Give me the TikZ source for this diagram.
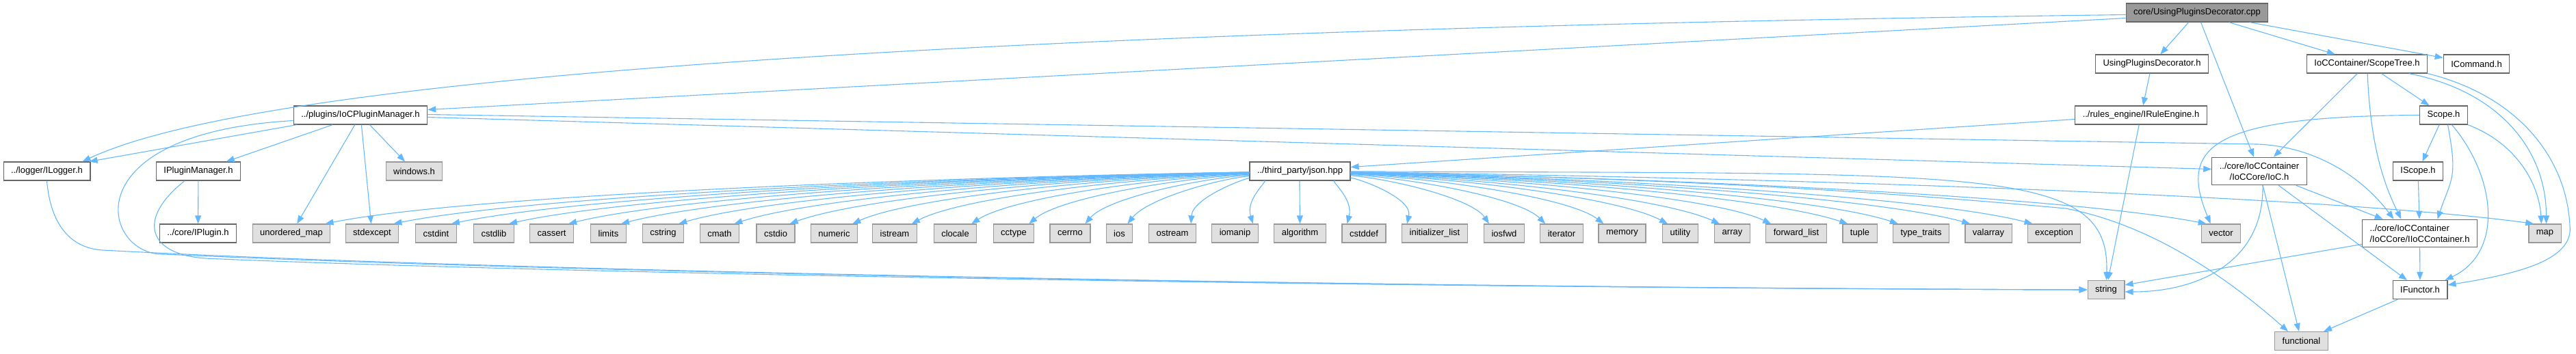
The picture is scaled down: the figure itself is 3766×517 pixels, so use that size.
\documentclass[tikz,border=0pt]{standalone}
\usepackage{fontspec}
\setmainfont{Liberation Sans}
\usetikzlibrary{arrows.meta}

\definecolor{edgeblue}{HTML}{63B8FF}
\definecolor{boxgray}{HTML}{E0E0E0}
\definecolor{sysborder}{HTML}{999999}
\definecolor{nodeborder}{HTML}{666666}
\definecolor{rootfill}{HTML}{999999}

\begin{document}
\begin{tikzpicture}[x=1pt, y=-1pt,
    filebox/.style={draw=nodeborder, line width=1.2pt, fill=white, text=black, inner xsep=11pt, inner ysep=6pt, minimum height=27pt, font=\fontsize{13}{16}\selectfont, align=center},
    sysbox/.style={filebox, draw=sysborder, fill=boxgray},
    rootbox/.style={filebox, fill=rootfill},
    dep/.style={draw=edgeblue, line width=1.1pt, -{Triangle[length=12pt,width=9pt]}}]
    \useasboundingbox (0,0) rectangle (3766,517);

    % Source file and its direct headers (top right)
    \node[rootbox] (root) at (3212,18.5) {core/UsingPluginsDecorator.cpp};
    \node[filebox] (upd) at (3146,93.5) {UsingPluginsDecorator.h};
    \node[filebox] (scopetree) at (3460.5,93.5) {IoCContainer/ScopeTree.h};
    \node[filebox] (icommand) at (3620.5,93.5) {ICommand.h};
    \node[filebox] (pluginmgr) at (527,168.5) {../plugins/IoCPluginManager.h};
    \node[filebox] (ruleengine) at (3130,168.5) {../rules\_engine/IRuleEngine.h};
    \node[filebox] (scope) at (3572.5,168.5) {Scope.h};

    % Middle row (project headers)
    \node[filebox] (ilogger) at (68.5,250.5) {../logger/ILogger.h};
    \node[filebox] (ipluginmgr) at (290,250.5) {IPluginManager.h};
    \node[sysbox] (windows) at (605.5,250.5) {windows.h};
    \node[filebox] (json) at (1900.5,250.5) {../third\_party/json.hpp};
    \node[filebox, inner ysep=7.5pt] (ioc) at (3303,250.5) {../core/IoCContainer\\/IoCCore/IoC.h};
    \node[filebox] (iscope) at (3535,250.5) {IScope.h};

    % Standard library row (gray boxes)
    \node[filebox] (iplugin) at (289.5,341.5) {../core/IPlugin.h};
    \foreach \n/\x/\t in {umap/426/unordered\_map, stdexcept/544/stdexcept, cstdint/637.5/cstdint, cstdlib/722/cstdlib,
        cassert/806.5/cassert, limits/889.5/limits, cstring/969.5/cstring, cmath/1052/cmath, cstdio/1134/cstdio,
        numeric/1219.5/numeric, istream/1308/istream, clocale/1396.5/clocale, cctype/1482/cctype, cerrno/1564.5/cerrno,
        ios/1636.5/ios, ostream/1714/ostream, iomanip/1805.5/iomanip, algorithm/1900.5/algorithm, cstddef/1994/cstddef,
        initlist/2097.5/initializer\_list, iosfwd/2199/iosfwd, iterator/2283/iterator, memory/2371.5/memory,
        utility/2456.5/utility, array/2532.5/array, fwdlist/2626/forward\_list, tuple/2719/tuple,
        typetraits/2808.5/type\_traits, valarray/2907/valarray, exception/3003/exception}
        \node[sysbox] (\n) at (\x,341.5) {\t};
    \node[sysbox] (vector) at (3247,341.5) {vector};
    \node[filebox, inner ysep=7.5pt, align=left] (iioc) at (3537.5,341.5) {../core/IoCContainer\\/IoCCore/IIoCContainer.h};
    \node[sysbox] (map) at (3720.5,341.5) {map};

    % Bottom rows
    \node[sysbox] (string) at (3079,424) {string};
    \node[filebox] (ifunctor) at (3538,424) {IFunctor.h};
    \node[sysbox] (functional) at (3364.5,499) {functional};

    % Includes of the source file
    \draw[dep] (root) -- (upd);
    \draw[dep] (root) -- (ioc);
    \draw[dep] (root) -- (scopetree);
    \draw[dep] (root) -- (icommand);
    \draw[dep] ([yshift=-8]root.west) -- ([yshift=8]pluginmgr.east);
    \draw[dep] ([yshift=-3]root.west) .. controls (1700,40) and (420,95) .. ([xshift=-12]ilogger.north east);

    % Decorator header and rule engine
    \draw[dep] (upd) -- (ruleengine);
    \draw[dep] ([yshift=-6]ruleengine.west) -- ([yshift=6]json.east);
    \draw[dep] (ruleengine) -- (string);

    % Plugin manager
    \draw[dep] ([xshift=5]pluginmgr.south west) -- ([xshift=-2]ilogger.north east);
    \draw[dep] (pluginmgr) -- (ipluginmgr);
    \draw[dep] (pluginmgr) -- (umap);
    \draw[dep] (pluginmgr) -- (stdexcept);
    \draw[dep] (pluginmgr) -- (windows);
    \draw[dep] ([yshift=-3]pluginmgr.east) -- ([yshift=3]ioc.west);
    \draw[dep] ([yshift=1]pluginmgr.east) -- (3300,211) .. controls (3380,214) and (3450,255) .. ([xshift=-38]iioc.north);
    \draw[dep] (ipluginmgr) -- (iplugin);

    % Long runs to string along the bottom
    \draw[dep] (ilogger.south) .. controls +(5,60) and +(-50,-3) .. (150,366) .. controls (700,396) and (2000,421) .. (string.west);
    \draw[dep] ([xshift=-20]ipluginmgr.south) .. controls (200,320) and (215,372) .. (300,378) .. controls (800,400) and (2000,421) .. (string.west);
    \draw[dep] ([yshift=-8]pluginmgr.west) .. controls (100,195) and (150,375) .. (240,372) .. controls (800,398) and (2000,421) .. (string.west);

    % json.hpp fan-out
    \foreach \n/\x in {umap/426, stdexcept/544, cstdint/637, cstdlib/722, cassert/806, limits/890, cstring/970,
        cmath/1052, cstdio/1134, numeric/1220, istream/1308, clocale/1397, cctype/1482, cerrno/1565, ios/1636,
        ostream/1714, iomanip/1805, algorithm/1900, cstddef/1994, initlist/2097, iosfwd/2199, iterator/2283,
        memory/2371, utility/2456, array/2532, fwdlist/2626, tuple/2719, typetraits/2808, valarray/2907,
        exception/3003, vector/3247, map/3720}{
        \pgfmathsetmacro\ca{1900+0.45*(\x-1900)}
        \pgfmathsetmacro\cb{\x-0.16*(\x-1900)}
        \ifnum\x<1900 \def\anc{north east}\def\sh{-8}\else
            \ifnum\x>1900 \def\anc{north west}\def\sh{8}\else \def\anc{north}\def\sh{0}\fi\fi
        \draw[dep] (json) .. controls (\ca,262) and (\cb,290) .. ([xshift=\sh]\n.\anc);
    }
    \draw[dep] (json) .. controls (2900,255) and (3085,240) .. (string);
    \draw[dep] (json) .. controls (2500,262) and (2800,285) .. (3020,305) .. controls (3150,330) and (3260,410) .. ([xshift=20]functional.north west);

    % IoC container headers
    \draw[dep] (ioc) -- (iioc);
    \draw[dep] (ioc) -- (ifunctor);
    \draw[dep] (ioc) -- (functional);
    \draw[dep] ([xshift=5]ioc.south) .. controls +(2,110) and +(110,0) .. ([yshift=-3]string.east);
    \draw[dep] ([yshift=5]iioc.south west) -- ([yshift=7]string.east);
    \draw[dep] (iioc) -- (ifunctor);
    \draw[dep] (ifunctor) -- (functional);

    % Scope tree and scope
    \draw[dep] (scopetree) -- (ioc);
    \draw[dep] (scopetree) .. controls (3465,200) and (3480,260) .. ([xshift=-27]iioc.north);
    \draw[dep] (scopetree) -- (scope);
    \draw[dep] ([xshift=61]scopetree.south) .. controls +(130,25) and +(0,-110) .. ([xshift=2]map.north);
    \draw[dep] (scopetree.south east) .. controls (3680,140) and (3752,230) .. (3757,330) .. controls (3762,375) and (3700,398) .. ([yshift=7]ifunctor.east);
    \draw[dep] (scope.west) .. controls (3230,170) and (3185,215) .. ([xshift=14]vector.north west);
    \draw[dep] (scope) -- (iscope);
    \draw[dep] ([xshift=6]scope.south) .. controls +(15,80) and +(20,-60) .. ([xshift=26]iioc.north);
    \draw[dep] ([xshift=12]scope.south) .. controls (3650,260) and (3660,370) .. ([xshift=-4]ifunctor.north east);
    \draw[dep] (scope.south east) .. controls (3680,210) and (3712,270) .. ([xshift=-5]map.north);
    \draw[dep] (iscope) -- (iioc);
\end{tikzpicture}
\end{document}
